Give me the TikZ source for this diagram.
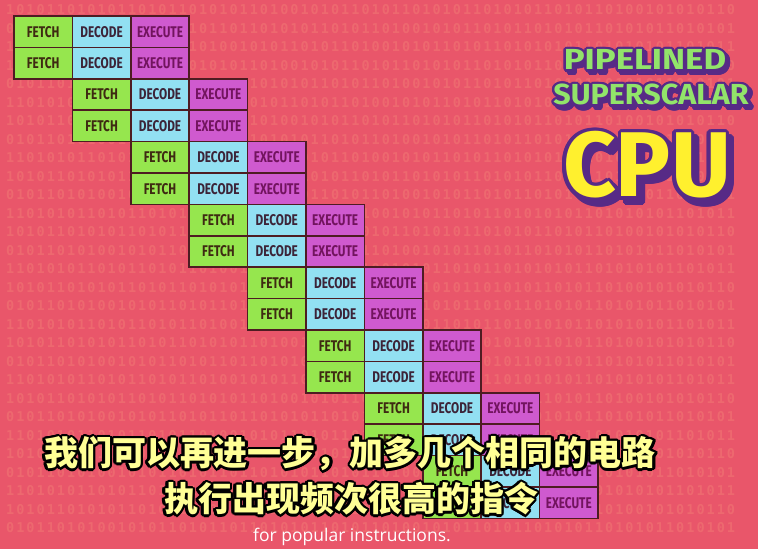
\documentclass[tikz,border=0pt]{standalone}
\usepackage{fontspec}
\setmainfont{Fira Sans}
\newfontfamily\cellfont{Fira Sans}[FakeStretch=0.76]
\newfontfamily\pipefont{Fira Sans}[FakeStretch=1.2]
\newfontfamily\superfont{Fira Sans}[FakeStretch=1.05]
\newfontfamily\cpufont{Fira Sans}
\newfontfamily\cjkfont{Noto Sans CJK SC}
\newfontfamily\capfont{Open Sans}
\newfontfamily\bitfont{DejaVu Sans Mono}[LetterSpace=15]
\usepackage[copies]{contour}
\usepackage{xcolor}
\definecolor{bgRed}{HTML}{E9566A}
\definecolor{bitTint}{HTML}{F8907A}
\definecolor{fetchGreen}{HTML}{96E64E}
\definecolor{decodeBlue}{HTML}{92E0F2}
\definecolor{executeMag}{HTML}{CF5ACF}
\definecolor{cellLine}{HTML}{4E1C22}
\definecolor{fetchText}{HTML}{3E2A12}
\definecolor{decodeText}{HTML}{3C2438}
\definecolor{executeText}{HTML}{72145E}
\definecolor{titleGreen}{HTML}{92E46A}
\definecolor{titlePurple}{HTML}{572A86}
\definecolor{cpuYellow}{HTML}{FFF02E}
\definecolor{subYellow}{HTML}{FFFF96}
\usepackage{tikz}
\usetikzlibrary{positioning}
\tikzset{
    % faint binary rows behind everything
    bits/.style={
        anchor=west,
        inner sep=0pt,
        text=bitTint,
        text opacity=0.33,
        font=\bitfont\bfseries\fontsize{13.5}{13.5}\selectfont,
    },
    % Base style for the pipeline cells
    cell/.style={
        rectangle,
        draw=cellLine,
        line width=1.6pt,
        minimum width=58.4pt,
        minimum height=31.4pt,
        inner sep=0pt,
        outer sep=0pt,
        font=\cellfont\bfseries\fontsize{15.5}{15.5}\selectfont,
    },
    fetchcell/.style={cell, fill=fetchGreen, text=fetchText},
    decodecell/.style={cell, fill=decodeBlue, text=decodeText},
    executecell/.style={cell, fill=executeMag, text=executeText},
    % Title lettering
    pipeword/.style={inner sep=0pt, font=\pipefont\bfseries\fontsize{29}{29}\selectfont},
    superword/.style={inner sep=0pt, font=\superfont\bfseries\fontsize{29}{29}\selectfont},
    cpuword/.style={inner sep=0pt, font=\cpufont\bfseries\fontsize{92}{92}\selectfont},
    % Subtitle lines
    subtitle/.style={inner sep=0pt, text=subYellow, font=\cjkfont\bfseries\fontsize{34}{34}\selectfont},
    caption/.style={
        inner sep=0pt,
        text=white,
        font=\capfont\fontsize{17.5}{17.5}\selectfont,
    },
}
\def\bitsA{101011010101101011010101101001010110101101010110101011010110100101010110}
\def\bitsB{010110101001010110101101101010110101101001010110101101010110101011010101}
\def\bitsC{110101011010110101101001010110101101001010110101101010101101010101101011}

\begin{document}
\begin{tikzpicture}[x=1pt, y=-1pt]
    \useasboundingbox (0,0) rectangle (758,549);
    \fill[bgRed] (0,0) rectangle (758,549);

    % binary texture
    \foreach \i in {0,...,28}{
        \pgfmathtruncatemacro\pick{mod(\i,3)}
        \node[bits] (bits-\i) at (6,{10+18.5*\i}) {\ifcase\pick\relax\bitsA\or\bitsB\else\bitsC\fi};
    }

    % two instructions per stage, shifted one stage each pair
    \foreach \k in {0,...,7}{
        \foreach \r in {0,1}{
            \node[fetchcell] (f-\k-\r) at ({43.2+58.4*\k},{31.7+31.4*(2*\k+\r)}) {FETCH};
            \node[decodecell, right=0pt of f-\k-\r] (d-\k-\r) {DECODE};
            \node[executecell, right=0pt of d-\k-\r] (e-\k-\r) {EXECUTE};
        }
    }

    % title: shadow first, then outlined letters
    \contourlength{2.4pt}
    \node[pipeword, text=titlePurple] (pipe-shadow) at (648,64) {\contour{titlePurple}{PIPELINED}};
    \node[pipeword, text=titleGreen] (pipe) at (645,61) {\contour{titlePurple}{PIPELINED}};
    \node[superword, text=titlePurple] (super-shadow) at (654,99) {\contour{titlePurple}{SUPERSCALAR}};
    \node[superword, text=titleGreen] (super) at (651,96) {\contour{titlePurple}{SUPERSCALAR}};
    \contourlength{3.8pt}
    \node[cpuword, text=titlePurple] (cpu-shadow) at (652,172) {\contour{titlePurple}{CPU}};
    \node[cpuword, text=cpuYellow] (cpu) at (647,167) {\contour{titlePurple}{CPU}};

    % subtitles
    \contourlength{2.4pt}
    \node[subtitle] (sub-a) at (350,455) {\contour{black}{我们可以再进一步，加多几个相同的电路}};
    \node[subtitle] (sub-b) at (351,500) {\contour{black}{执行出现频次很高的指令}};
    \node[caption] (sub-en) at (352,537) {for popular instructions.};
\end{tikzpicture}
\end{document}
